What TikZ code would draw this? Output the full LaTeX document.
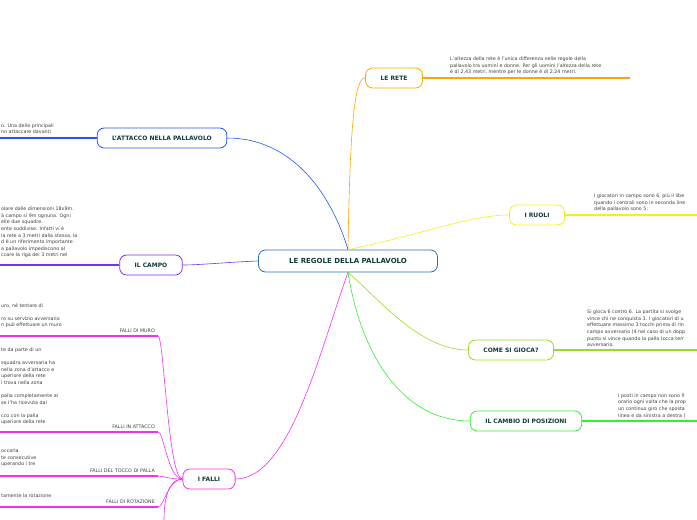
\documentclass[tikz,border=0pt]{standalone}
\usepackage{fontspec}
\setmainfont{DejaVu Sans}
\usetikzlibrary{positioning}
\definecolor{cblue}{HTML}{2255EE}
\definecolor{corange}{HTML}{FFA500}
\definecolor{cyellow}{HTML}{F0F020}
\definecolor{clime}{HTML}{99DD22}
\definecolor{cgreen}{HTML}{33EE33}
\definecolor{cpurple}{HTML}{7733EE}
\definecolor{cmag}{HTML}{EE33EE}
\definecolor{cnavy}{HTML}{2F6FB0}
\definecolor{ctxt}{HTML}{0F3B3B}
\tikzset{
  topic/.style={draw=#1, thick, rounded corners=7pt, fill=white, text=ctxt,
    font=\fontsize{6}{7}\selectfont\bfseries, minimum height=20pt, inner xsep=15pt},
  note/.style={font=\fontsize{4.8}{6.6}\selectfont, text=black!75, align=left,
    inner sep=0pt, anchor=south west},
  sub/.style={font=\fontsize{4.8}{6}\selectfont, text=black!75, inner sep=0pt, anchor=south east},
  branch/.style={#1, line width=0.6pt},
  bar/.style={#1, line width=1.2pt}
}
\begin{document}
\begin{tikzpicture}[x=1pt,y=-1pt]
\useasboundingbox[fill=white] (0,0) rectangle (697,520);

% main topic
\node[topic=cnavy, minimum width=179pt, minimum height=22pt, font=\fontsize{7}{8}\selectfont\bfseries] (root) at (348,261) {LE REGOLE DELLA PALLAVOLO};

% right side
\node[topic=corange] (rete) at (394,78) {LE RETE};
\node[topic=cyellow] (ruoli) at (537,215) {I RUOLI};
\node[topic=clime] (gioca) at (511,350) {COME SI GIOCA?};
\node[topic=cgreen] (cambio) at (526,421) {IL CAMBIO DI POSIZIONI};

% left side
\node[topic=cblue] (attacco) at (162,138) {L'ATTACCO NELLA PALLAVOLO};
\node[topic=cpurple] (campo) at (151,265) {IL CAMPO};
\node[topic=cmag] (falli) at (209,479) {I FALLI};

% connectors from the root
\draw[branch=corange] (root.north) .. controls (350,120) and (355,78) .. (rete.west);
\draw[branch=cyellow] (root.north) .. controls (420,235) and (470,215) .. (ruoli.west);
\draw[branch=clime] (root.south) .. controls (380,300) and (420,350) .. (gioca.west);
\draw[branch=cgreen] (root.south) .. controls (360,350) and (400,421) .. (cambio.west);
\draw[branch=cblue] (root.north) .. controls (330,190) and (290,138) .. (attacco.east);
\draw[branch=cpurple] (root.west) .. controls (230,262) and (200,265) .. (campo.east);
\draw[branch=cmag] (root.south) .. controls (320,350) and (290,479) .. (falli.east);

% notes
\coordinate (reteend) at (630,78);
\draw[bar=corange] (rete.east) -- (reteend);
\node[note] at (450,75) {L'altezza della rete è l'unica differenza nelle regole della\\pallavolo tra uomini e donne. Per gli uomini l'altezza della rete\\è di 2,43 metri, mentre per le donne è di 2,24 metri.};
\coordinate (ruoliend) at (697,215);
\draw[bar=cyellow] (ruoli.east) -- (ruoliend);
\node[note] at (594,212) {I giocatori in campo sono 6, più il libe\\quando i centrali sono in seconda line\\della pallavolo sono 5:};
\coordinate (giocaend) at (697,350);
\draw[bar=clime] (gioca.east) -- (giocaend);
\node[note] at (587,347) {Si gioca 6 contro 6. La partita si svolge\\vince chi ne conquista 3. I giocatori di u\\effettuare massimo 3 tocchi prima di rin\\campo avversario (4 nel caso di un dopp\\punto si vince quando la palla tocca terr\\avversario.};
\coordinate (cambioend) at (697,421);
\draw[bar=cgreen] (cambio.east) -- (cambioend);
\node[note] at (618,418) {I posti in campo non sono fi\\orario ogni volta che la prop\\un continuo giro che sposta\\linea e da sinistra a destra (};

\coordinate (attaccoend) at (0,138);
\draw[bar=cblue] (attacco.west) -- (attaccoend);
\node[note] at (1,134) {o. Una delle principali\\no attaccare davanti};
\coordinate (campoend) at (0,265);
\draw[bar=cpurple] (campo.west) -- (campoend);
\node[note] at (1,258) {olare dalle dimensioni 18x9m.\\à campo si 9m ognuna. Ogni\\elle due squadre.\\ente suddivise. Infatti vi è\\la rete a 3 metri dalla stessa, la\\d è un riferimento importante\\a pallavolo impediscono al\\ccare la riga dei 3 metri nel};

% sub branches of I FALLI
\node[sub] (muro) at (155,333) {FALLI DI MURO};
\node[sub] (fattacco) at (155,429) {FALLI IN ATTACCO};
\node[sub] (tocco) at (155,473) {FALLI DEL TOCCO DI PALLA};
\node[sub] (rotaz) at (155,504) {FALLI DI ROTAZIONE};
\foreach \n/\y in {muro/336,fattacco/432,tocco/476,rotaz/507}{
  \coordinate (\n k) at (158,\y);
  \coordinate (\n l) at (0,\y);
  \draw[branch=cmag] (falli.west) .. controls (168,479) and (164,\y) .. (\n k);
  \draw[bar=cmag] (\n k) -- (\n l);
}
\coordinate (down) at (164,520);
\draw[branch=cmag] (falli.west) .. controls (168,479) and (164,500) .. (down);
\node[note] at (1,328) {uro, né tentare di\\\\ro su servizio avversario\\n può effettuare un muro};
\node[note] at (1,425) {te da parte di un\\\\squadra avversaria ha\\nella zona d'attacco e\\uperiore della rete\\i trova nella zona\\\\palla completamente al\\se l'ha ricevuta dal\\\\cco con la palla\\uperiore della rete};
\node[note] at (1,467) {occarla\\te consecutive\\uperando i tre};
\node[note] at (1,498) {tamente la rotazione};
\end{tikzpicture}
\end{document}
